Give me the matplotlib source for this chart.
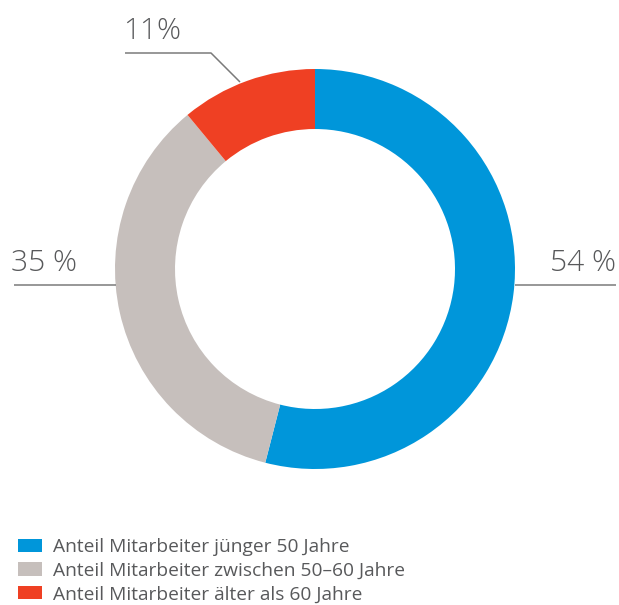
import matplotlib
matplotlib.use("Agg")
import matplotlib.pyplot as plt
from matplotlib.patches import Patch

W, H = 619, 605

categories = ["Anteil Mitarbeiter jünger 50 Jahre",
              "Anteil Mitarbeiter zwischen 50–60 Jahre",
              "Anteil Mitarbeiter älter als 60 Jahre"]
values = [54, 35, 11]
value_labels = ["54 %", "35 %", "11%"]
colors = ["#0096DA", "#C6BFBC", "#EF4023"]

TEXT = "#58595B"
LINE = "#7A7A7A"

plt.rcParams['font.family'] = ['Open Sans', 'DejaVu Sans']

fig = plt.figure(figsize=(W / 100, H / 100), dpi=100)
ax = fig.add_axes([0, 0, 1, 1])

def Y(yp):
    return H - yp

cx, cy, R, ring = 315, 269, 200, 60
ax.pie(values, colors=colors, startangle=90, counterclock=False,
       center=(cx, Y(cy)), radius=R,
       wedgeprops=dict(width=ring, linewidth=0))

ax.set_xlim(0, W)
ax.set_ylim(0, H)
ax.set_aspect('equal', adjustable='box')
ax.axis('off')

# leader lines
ax.plot([515, 616], [Y(285), Y(285)], color=LINE, lw=1.1, solid_capstyle='butt')
ax.plot([14, 116], [Y(285), Y(285)], color=LINE, lw=1.1, solid_capstyle='butt')
ax.plot([125, 211, 240], [Y(53), Y(53), Y(82)], color=LINE, lw=1.1, solid_capstyle='butt')

# value labels
fs = 21.5
ax.text(616, Y(271), value_labels[0], ha='right', va='baseline', fontsize=fs,
        color=TEXT, fontweight='light')
ax.text(11, Y(271), value_labels[1], ha='left', va='baseline', fontsize=fs,
        color=TEXT, fontweight='light')
ax.text(123, Y(39), value_labels[2], ha='left', va='baseline', fontsize=fs,
        color=TEXT, fontweight='light')

handles = [Patch(facecolor=c, edgecolor='none') for c in colors]
leg = ax.legend(handles, categories, loc='upper left',
                bbox_to_anchor=(18 / W, 1 - 538 / H), bbox_transform=ax.transAxes,
                frameon=False, fontsize=13.8, labelcolor=TEXT,
                handlelength=1.26, handleheight=0.68, handletextpad=0.58,
                labelspacing=0.3, borderpad=0, borderaxespad=0)

fig.savefig("out.png", dpi=100)
